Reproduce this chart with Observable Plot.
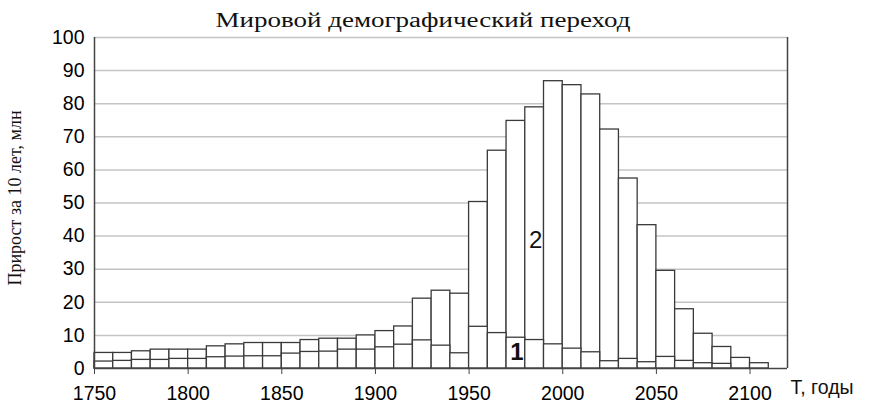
<!DOCTYPE html>
<html><head><meta charset="utf-8">
<script src="https://cdn.jsdelivr.net/npm/d3@7"></script>
<script src="https://cdn.jsdelivr.net/npm/@observablehq/plot@0.6"></script>
<style>body{margin:0;background:#fff}</style>
</head><body><div id="chart"></div>
<script>
const years = [1750,1760,1770,1780,1790,1800,1810,1820,1830,1840,1850,1860,1870,1880,1890,1900,1910,1920,1930,1940,1950,1960,1970,1980,1990,2000,2010,2020,2030,2040,2050,2060,2070,2080,2090,2100];
const total = [4.7,4.7,5.2,5.7,5.7,5.7,6.7,7.3,7.7,7.7,7.7,8.6,9.0,9.0,10.0,11.3,12.7,21.1,23.5,22.6,50.3,65.8,74.8,78.9,86.8,85.6,82.8,72.2,57.4,43.3,29.5,17.9,10.5,6.5,3.2,1.6];
const developed = [2.1,2.3,2.6,2.6,2.9,2.9,3.4,3.6,3.7,3.7,4.5,5.0,5.1,5.7,5.7,6.4,7.2,8.5,6.9,4.6,12.6,10.7,9.3,8.6,7.3,6.0,4.9,2.2,2.9,1.9,3.5,2.3,1.6,1.4,0,0];
const yTicks = [0,10,20,30,40,50,60,70,80,90,100];
const xTicks = [1750,1800,1850,1900,1950,2000,2050,2100];
const seriesLabels = [{x:1985.5, y:38.7, text:"2"}, {x:1975.6, y:4.9, text:"1"}];
const title = "Мировой демографический переход";
const yLabel = "Прирост за 10 лет, млн";
const xLabel = "Т, годы";

const rowsTotal = years.map((yr,i)=>({x1:yr, x2:yr+10, v:total[i]}));
const rowsDev = years.map((yr,i)=>({x1:yr, x2:yr+10, v:developed[i]})).filter(d=>d.v>0);

const sans = "Liberation Sans, Arial, sans-serif";
const serif = "Liberation Serif, Times New Roman, serif";

const chart = Plot.plot({
  width: 869, height: 405,
  marginLeft: 94, marginRight: 82, marginTop: 37, marginBottom: 37,
  style: {fontFamily: sans, background: "#fff", overflow: "visible"},
  x: {domain: [1750, 2120]},
  y: {domain: [0, 100]},
  marks: [
    Plot.gridY(yTicks.filter(t=>t>0), {stroke: "#c4c4c4", strokeOpacity: 1, strokeWidth: 1.5}),
    Plot.rectY(rowsTotal, {x1:"x1", x2:"x2", y:"v", fill:"#fff", stroke:"#3a3a3a", strokeWidth:1.3}),
    Plot.rectY(rowsDev, {x1:"x1", x2:"x2", y:"v", fill:"#fff", stroke:"#3a3a3a", strokeWidth:1.3}),
    Plot.ruleX([1750], {y1:0, y2:100, stroke:"#444", strokeWidth:1.5}),
    Plot.ruleX([2120], {y1:0, y2:100, stroke:"#444", strokeWidth:1.5}),
    Plot.ruleY([0], {stroke:"#444", strokeWidth:1.5}),
    Plot.axisY({ticks: yTicks, tickSize: 0, tickPadding: 10, fontSize: 19.5, label: null, tickFormat: d=>String(d)}),
    Plot.axisX({ticks: xTicks, tickSize: 6, tickPadding: 12, fontSize: 19.5, label: null, tickFormat: d=>String(d), stroke:"#444"}),
    Plot.text(seriesLabels.filter(d=>d.text==="2"), {x:"x", y:"y", text:"text", fontSize: 24, fill:"#111"}),
    Plot.text(seriesLabels.filter(d=>d.text==="1"), {x:"x", y:"y", text:"text", fontSize: 24, fontWeight: "bold", fill:"#111"}),
    Plot.text([title], {frameAnchor:"top", lineAnchor:"middle", dx:-18, dy:-17, fontFamily: serif, fontSize: 20, fill:"#111", className:"title"}),
    Plot.text([yLabel], {frameAnchor:"left", textAnchor:"middle", lineAnchor:"middle", dx:-79, dy:-5, rotate:-90, fontFamily: serif, fontSize: 18, fill:"#111"}),
    Plot.text([xLabel], {frameAnchor:"bottom-right", dx:3, dy:25, textAnchor:"start", fontSize: 19.5, fill:"#111"})
  ]
});
d3.select(chart).selectAll("g.title text").attr("textLength", 415).attr("lengthAdjust", "spacingAndGlyphs");
document.getElementById("chart").appendChild(chart);
</script>
</body></html>
